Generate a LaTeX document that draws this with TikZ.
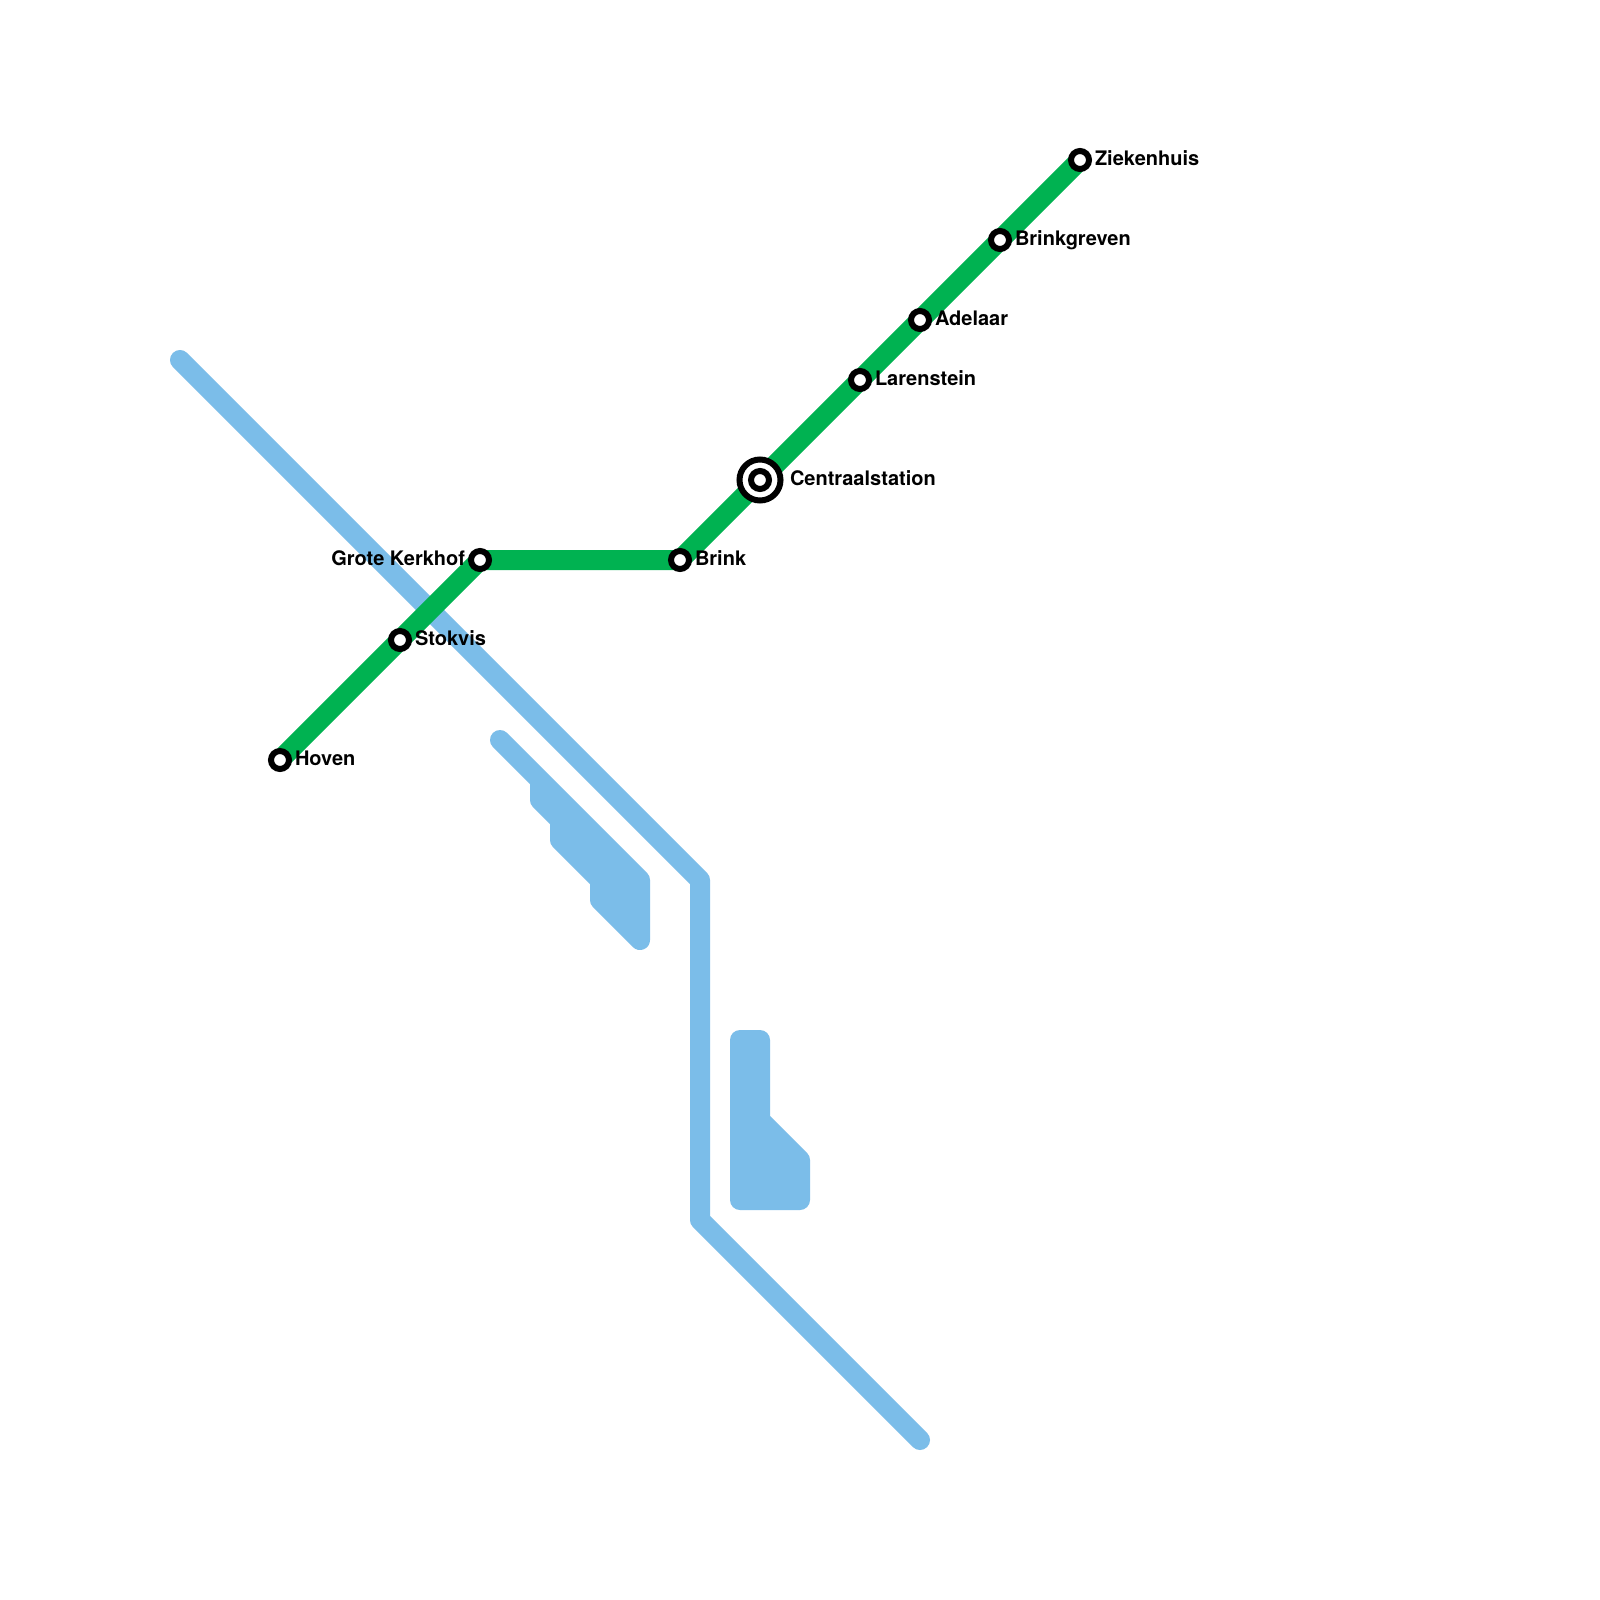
\documentclass[tikz,border=0pt]{standalone}
\usepackage{fontspec}
\setmainfont{TeX Gyre Heros}
\usetikzlibrary{backgrounds}
\definecolor{bluel}{HTML}{7BBDE9}
\definecolor{greenl}{HTML}{00B251}
\tikzset{
  stn/.style={circle,draw=black,fill=white,line width=6pt,minimum size=18pt,inner sep=0pt,outer sep=0pt},
  hubouter/.style={circle,draw=black,fill=white,line width=6pt,minimum size=41pt,inner sep=0pt,outer sep=0pt},
  lbl/.style={inner sep=0pt,outer sep=0pt,font=\fontsize{20}{24}\selectfont\bfseries,text=black},
  lblr/.style={lbl,anchor=base west},
  lbll/.style={lbl,anchor=base east},
  blueline/.style={draw=bluel,line width=20pt,line cap=round,line join=round},
  bluearea/.style={blueline,fill=bluel},
  greenline/.style={draw=greenl,line width=20pt,line cap=round,line join=round}
}
\begin{document}
\begin{tikzpicture}[x=1pt,y=-1pt]
\useasboundingbox (0,0) rectangle (1600,1600);
% stations
\node[stn] (hoven) at (280,760) {};
\node[stn] (stokvis) at (400,640) {};
\node[stn] (grote) at (480,560) {};
\node[stn] (brink) at (680,560) {};
\node[hubouter] (centraal) at (760,480) {};
\node[stn] (centraalin) at (760,480) {};
\node[stn] (larenstein) at (860,380) {};
\node[stn] (adelaar) at (920,320) {};
\node[stn] (brinkgreven) at (1000,240) {};
\node[stn] (ziekenhuis) at (1080,160) {};
% labels
\node[lblr] (lhoven) at (295,765.5) {Hoven};
\node[lblr] (lstokvis) at (415,645.5) {Stokvis};
\node[lbll] (lgrote) at (465,565.5) {Grote Kerkhof};
\node[lblr] (lbrink) at (695,565.5) {Brink};
\node[lblr] (lcentraal) at (790,485.5) {Centraalstation};
\node[lblr] (llarenstein) at (875,385.5) {Larenstein};
\node[lblr] (ladelaar) at (935,325.5) {Adelaar};
\node[lblr] (lbrinkgreven) at (1015,245.5) {Brinkgreven};
\node[lblr] (lziekenhuis) at (1095,165.5) {Ziekenhuis};
% blue line way points
\coordinate (b1) at (180,360);
\coordinate (b2) at (700,880);
\coordinate (b3) at (700,1220);
\coordinate (b4) at (920,1440);
\begin{pgfonlayer}{background}
\fill[white] (0,0) rectangle (1600,1600);
\draw[blueline] (b1) -- (b2) -- (b3) -- (b4);
\draw[bluearea] (500,740) -- (640,880) -- (640,940) -- (600,900) -- (600,880) -- (560,840) -- (560,820) -- (540,800) -- (540,780) -- cycle;
\draw[bluearea] (740,1040) -- (760,1040) -- (760,1120) -- (800,1160) -- (800,1200) -- (740,1200) -- cycle;
\draw[greenline] (hoven.center) -- (stokvis.center) -- (grote.center) -- (brink.center) -- (centraal.center) -- (larenstein.center) -- (adelaar.center) -- (brinkgreven.center) -- (ziekenhuis.center);
\end{pgfonlayer}
\end{tikzpicture}
\end{document}
